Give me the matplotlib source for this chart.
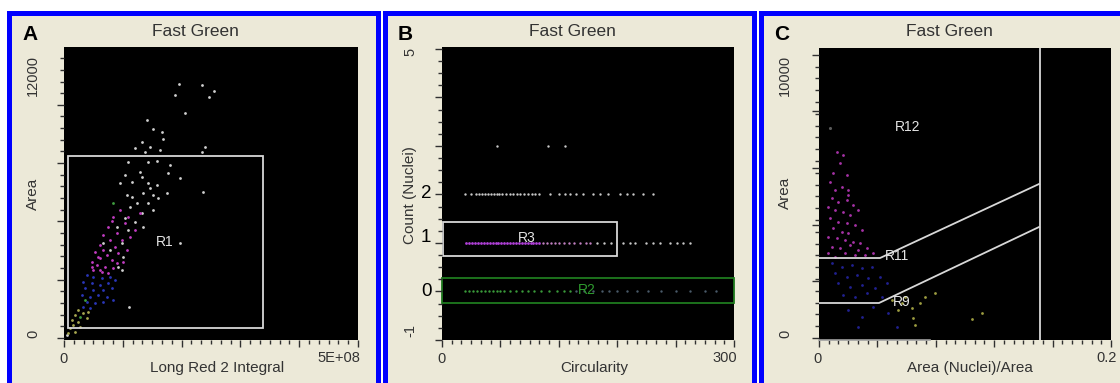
import matplotlib.pyplot as plt
import numpy as np
from matplotlib.patches import Rectangle

plt.rcParams['font.family'] = ['Liberation Sans', 'DejaVu Sans']

# ---- panel A: Long Red 2 Integral (x1e8) vs Area ----
a_white_x = [1.96, 2.34, 2.55, 2.47, 1.89, 2.06, 1.42, 1.52, 1.66, 1.69, 1.32, 1.21, 1.38, 1.46, 1.63,
             2.40, 2.34, 1.43, 1.58, 1.09, 1.80, 1.29, 1.04, 1.15, 1.32, 1.43, 1.46, 1.58, 1.97, 1.77,
             0.95, 1.07, 1.15, 1.35, 1.52, 1.75, 1.24, 1.43, 1.60, 1.12, 1.32, 1.52, 2.37, 1.97, 1.35,
             1.21, 1.04, 1.09, 0.98, 1.01, 0.92, 0.98, 0.78, 0.67, 0.90, 0.05, 1.10]
a_white_y = [10900, 10850, 10610, 10350, 10420, 9640, 9350, 8950, 8850, 8540, 8420, 8140, 7990, 8210, 8070,
             8210, 7990, 7560, 7610, 7560, 7420, 7140, 6990, 6710, 6920, 6640, 6420, 6560, 6850, 7060,
             6640, 6130, 6060, 6210, 6130, 6210, 5780, 5780, 5990, 5630, 5350, 5490, 6280, 4060, 4780,
             4990, 5130, 4630, 4060, 3490, 3060, 2920, 3780, 4060, 4780, 130, 1330]
a_mag_x = [0.95, 0.84, 1.04, 0.75, 0.90, 1.12, 0.67, 0.78, 0.98, 0.61, 0.87, 1.07, 0.53, 0.73, 0.92, 0.61,
           0.81, 1.01, 0.47, 0.56, 0.70, 0.84, 0.50, 0.64, 0.75, 0.58, 0.67, 0.47, 1.09, 1.21, 1.29, 0.81,
           0.90, 0.61]
a_mag_y = [5490, 5210, 4920, 4780, 4490, 4350, 4420, 4200, 4200, 3990, 3920, 3780, 3700, 3560, 3630, 3420,
           3350, 3270, 3270, 3130, 3060, 2990, 2920, 2850, 2770, 3490, 3780, 3060, 5210, 4630, 5350, 5000,
           3200, 2920]
a_blue_x = [0.39, 0.50, 0.64, 0.78, 0.33, 0.47, 0.61, 0.75, 0.87, 0.36, 0.50, 0.67, 0.81, 0.30, 0.44, 0.58,
            0.73, 0.39, 0.53, 0.67, 0.84, 0.33, 0.44]
a_blue_y = [2700, 2630, 2560, 2630, 2420, 2350, 2270, 2350, 2490, 2130, 2060, 2060, 2130, 1840, 1770, 1840,
            1770, 1560, 1490, 1560, 1630, 1340, 1270]
a_yel_x = [0.24, 0.19, 0.33, 0.13, 0.24, 0.39, 0.16, 0.27, 0.10, 0.19, 0.41, 0.07]
a_yel_y = [1200, 990, 1060, 770, 700, 840, 560, 490, 410, 270, 1130, 200]
a_green_x = [0.84, 0.36, 0.27]
a_green_y = [5810, 1630, 920]
a_r1 = (0.068, 429, 3.38, 7808)  # x0, y0, x1, y1

# ---- panel B: Circularity vs Count (Nuclei) ----
b_row3_x = [56, 109, 126]
b_row2_x = [24, 30, 35, 38, 41, 44, 47, 50, 53, 56, 59, 62, 66, 70, 73, 77, 80, 84, 88, 92, 96, 100,
            111, 120, 126, 131, 138, 145, 155, 162, 171, 183, 190, 196, 207, 217]
b_row1_mag_x = [25, 28, 31, 34, 37, 40, 43, 46, 49, 52, 55, 58, 61, 64, 67, 70, 73, 76, 79, 82, 85, 88,
                91, 94, 97, 100]
b_row1_pink_x = [104, 108, 112, 116, 120, 125, 130, 136, 142, 148, 152]
b_row1_white_x = [159, 166, 174, 186, 193, 198, 210, 217, 224, 234, 241, 248, 255]
b_row0_green_x = [24, 28, 32, 36, 40, 44, 48, 52, 56, 60, 64, 70, 76, 82, 88, 95, 102, 110, 118, 125, 131]
b_row0_dim_x = [138, 146, 155, 164, 172, 180, 190, 200, 212, 225, 240, 255, 270, 282]
b_r3 = (1, 0.73, 180, 1.43)
b_r2 = (0, -0.24, 300, 0.28)

# ---- panel C: Area (Nuclei)/Area vs Area ----
c_mag_x = [0.0121, 0.0144, 0.0098, 0.0189, 0.0075, 0.0155, 0.0201, 0.0087, 0.0132, 0.0189, 0.0235,
           0.0064, 0.0110, 0.0167, 0.0212, 0.0269, 0.0075, 0.0132, 0.0189, 0.0247, 0.0098, 0.0155,
           0.0201, 0.0292, 0.0064, 0.0121, 0.0178, 0.0235, 0.0281, 0.0087, 0.0144, 0.0212, 0.0269,
           0.0327, 0.0064, 0.0178, 0.0247, 0.0315, 0.0372, 0.0110, 0.0201, 0.0110, 0.0167]
c_mag_y = [6580, 6170, 5810, 5760, 5520, 5340, 5230, 4930, 4810, 4870, 4700, 4640, 4520, 4460, 4340,
           4520, 4230, 4110, 4050, 3990, 3870, 3750, 3700, 3810, 3580, 3520, 3460, 3400, 3340, 3230,
           3170, 3280, 3110, 3170, 2990, 2990, 2930, 2930, 2990, 2870, 5050, 5230, 6460]
c_blue_x = [0.0087, 0.0155, 0.0224, 0.0292, 0.0361, 0.0110, 0.0189, 0.0258, 0.0338, 0.0418, 0.0132,
            0.0212, 0.0292, 0.0384, 0.0463, 0.0167, 0.0247, 0.0327, 0.0429, 0.0201, 0.0292, 0.0372,
            0.0475, 0.0532, 0.0269]
c_blue_y = [2640, 2520, 2580, 2460, 2520, 2280, 2170, 2220, 2110, 2170, 1930, 1810, 1870, 1750, 1930,
            1520, 1460, 1580, 1460, 990, 750, 1110, 870, 400, 400]
c_yel_x = [0.0498, 0.0566, 0.0635, 0.0692, 0.0726, 0.0795, 0.0646, 0.0658, 0.0543, 0.1046, 0.1114, 0.0589]
c_yel_y = [1340, 1220, 1050, 1220, 1460, 1580, 690, 460, 990, 660, 890, 1460]
c_grey_x = [0.0075]
c_grey_y = [7403]
c_r11_x = [0, 0.0418, 0.1507]
c_r11_y = [2824, 2824, 5436]
c_r9_x = [0, 0.0411, 0.1507]
c_r9_y = [1236, 1236, 3918]
c_gate_x = 0.1514

W, H = 1120, 383


def fx(px):
    return px / W


def fy(py):
    return 1 - py / H


fig = plt.figure(figsize=(W / 100, H / 100), dpi=100, facecolor='white')


def ftext(px, py, s, **kw):
    kw.setdefault('color', '#333333')
    fig.text(fx(px), fy(py), s, **kw)


# window frames (blue border, beige inside)
for x0, x1 in [(7, 381), (383, 757), (759, 1133)]:
    fig.add_artist(Rectangle((fx(x0), fy(400)), (x1 - x0) / W, 389 / H, transform=fig.transFigure,
                             facecolor='#0000FF', edgecolor='none', zorder=-2))
    fig.add_artist(Rectangle((fx(x0 + 5), fy(400)), (x1 - x0 - 10) / W, 384 / H, transform=fig.transFigure,
                             facecolor='#ECE9D8', edgecolor='none', zorder=-1))


def make_axes(left, right, top, bottom):
    ax = fig.add_axes([fx(left), fy(bottom), (right - left) / W, (bottom - top) / H])
    ax.set_facecolor('black')
    for sp in ax.spines.values():
        sp.set_visible(False)
    ax.tick_params(which='both', direction='out', color='#303030', width=1,
                   labelleft=False, labelbottom=False)
    ax.tick_params(which='major', length=5)
    ax.tick_params(which='minor', length=3.2)
    return ax


region_kw = dict(color='#D8D8D8', lw=1.3)
lab_kw = dict(color='#E4E4E4', fontsize=10, ha='center', va='center')

# ---------------- A ----------------
ax = make_axes(64, 358, 47, 340)
ax.set_xlim(0, 5e8)
ax.set_ylim(-86, 12480)
ax.set_xticks(np.linspace(0, 5e8, 6))
ax.set_xticks(np.linspace(0, 5e8, 31), minor=True)
ax.set_yticks(np.arange(0, 12001, 2500))
ax.set_yticks(np.arange(0, 12001, 500), minor=True)
ax.scatter(np.array(a_white_x) * 1e8, a_white_y, s=4, c='#CFCFCF', linewidths=0)
ax.scatter(np.array(a_mag_x) * 1e8, a_mag_y, s=4, c='#C23CC2', linewidths=0)
ax.scatter(np.array(a_blue_x) * 1e8, a_blue_y, s=4, c='#2A36B8', linewidths=0)
ax.scatter(np.array(a_yel_x) * 1e8, a_yel_y, s=4, c='#A8A850', linewidths=0)
ax.scatter(np.array(a_green_x) * 1e8, a_green_y, s=4, c='#40A040', linewidths=0)
x0, y0, x1, y1 = a_r1
ax.add_patch(Rectangle((x0 * 1e8, y0), (x1 - x0) * 1e8, y1 - y0, fill=False, ec='#D8D8D8', lw=1.3))
ax.text(1.72e8, 4118, 'R1', **lab_kw)

ftext(30, 35, 'A', fontsize=15, fontweight='bold', color='black', ha='center', va='center')
ftext(195, 31, 'Fast Green', fontsize=12.5, ha='center', va='center')
ftext(217, 368, 'Long Red 2 Integral', fontsize=11, ha='center', va='center')
ftext(33, 194, 'Area', fontsize=11, rotation=90, ha='center', va='center')
ftext(63, 359, '0', fontsize=10.5, ha='center', va='center')
ftext(360, 358, '5E+08', fontsize=10.5, ha='right', va='center')
ftext(33, 338, '0', fontsize=10.5, rotation=90, ha='center', va='bottom')
ftext(33, 55, '12000', fontsize=10.5, rotation=90, ha='center', va='top')

# ---------------- B ----------------
ax = make_axes(442, 734, 47, 340)
ax.set_xlim(0, 300)
ax.set_ylim(-1.0, 5.04)
ax.set_xticks(np.linspace(0, 300, 6))
ax.set_xticks(np.linspace(0, 300, 31), minor=True)
ax.set_yticks(np.arange(-1, 6, 1))
ax.set_yticks(np.arange(-1, 5.01, 0.25), minor=True)
ax.scatter(b_row3_x, np.full(len(b_row3_x), 3), s=3, c='#C8C8C8', linewidths=0)
ax.scatter(b_row2_x, np.full(len(b_row2_x), 2), s=3, c='#C8C8C8', linewidths=0)
ax.scatter(b_row1_mag_x, np.full(len(b_row1_mag_x), 1), s=4, c='#B040D8', linewidths=0)
ax.scatter(b_row1_pink_x, np.full(len(b_row1_pink_x), 1), s=3, c='#C080C0', linewidths=0)
ax.scatter(b_row1_white_x, np.full(len(b_row1_white_x), 1), s=3, c='#C8C8C8', linewidths=0)
ax.scatter(b_row0_green_x, np.full(len(b_row0_green_x), 0), s=3, c='#3A9A3A', linewidths=0)
ax.scatter(b_row0_dim_x, np.full(len(b_row0_dim_x), 0), s=3, c='#4A5A6A', linewidths=0)
x0, y0, x1, y1 = b_r3
ax.add_patch(Rectangle((x0, y0), x1 - x0, y1 - y0, fill=False, ec='#D8D8D8', lw=1.3))
x0, y0, x1, y1 = b_r2
ax.add_patch(Rectangle((x0, y0), x1 - x0, y1 - y0, fill=False, ec='#1E7A1E', lw=1.3, clip_on=False))
ax.text(87, 1.10, 'R3', **lab_kw)
ax.text(149, 0.03, 'R2', fontsize=10, color='#2E9A2E', ha='center', va='center')

ftext(405, 35, 'B', fontsize=15, fontweight='bold', color='black', ha='center', va='center')
ftext(572, 31, 'Fast Green', fontsize=12.5, ha='center', va='center')
ftext(594, 368, 'Circularity', fontsize=11, ha='center', va='center')
ftext(410, 195, 'Count (Nuclei)', fontsize=11, rotation=90, ha='center', va='center')
ftext(442, 359, '0', fontsize=10.5, ha='center', va='center')
ftext(737, 358, '300', fontsize=10.5, ha='right', va='center')
ftext(410, 48, '5', fontsize=10.5, rotation=90, ha='center', va='top')
ftext(410, 337, '-1', fontsize=10.5, rotation=90, ha='center', va='bottom')
for val, py in [('2', 193), ('1', 238), ('0', 292)]:
    ftext(426, py, val, fontsize=13.5, color='black', ha='center', va='center')

# ---------------- C ----------------
ax = make_axes(819, 1111, 48, 340)
ax.set_xlim(0, 0.2)
ax.set_ylim(-70, 10237)
ax.set_xticks(np.linspace(0, 0.2, 6))
ax.set_xticks(np.linspace(0, 0.2, 31), minor=True)
ax.set_yticks(np.linspace(0, 10000, 6))
ax.set_yticks(np.linspace(0, 10000, 25), minor=True)
ax.scatter(c_mag_x, c_mag_y, s=4, c='#A632A6', linewidths=0)
ax.scatter(c_blue_x, c_blue_y, s=4, c='#202090', linewidths=0)
ax.scatter(c_yel_x, c_yel_y, s=4, c='#9C9C40', linewidths=0)
ax.scatter(c_grey_x, c_grey_y, s=5, c='#5A5A5A', linewidths=0)
ax.plot(c_r11_x, c_r11_y, **region_kw)
ax.plot(c_r9_x, c_r9_y, **region_kw)
ax.axvline(c_gate_x, **region_kw)
ax.plot([0, 0.076], [-70, -70], color='#A0A0A0', lw=1.2, clip_on=False)
ax.text(0.061, 7448, 'R12', **lab_kw)
ax.text(0.0534, 2895, 'R11', **lab_kw)
ax.text(0.0569, 1271, 'R9', **lab_kw)

ftext(782, 34, 'C', fontsize=15, fontweight='bold', color='black', ha='center', va='center')
ftext(949, 31, 'Fast Green', fontsize=12.5, ha='center', va='center')
ftext(970, 368, 'Area (Nuclei)/Area', fontsize=11, ha='center', va='center')
ftext(785, 193, 'Area', fontsize=11, rotation=90, ha='center', va='center')
ftext(817, 359, '0', fontsize=10.5, ha='center', va='center')
ftext(1117, 358, '0.2', fontsize=10.5, ha='right', va='center')
ftext(785, 338, '0', fontsize=10.5, rotation=90, ha='center', va='bottom')
ftext(785, 55, '10000', fontsize=10.5, rotation=90, ha='center', va='top')

fig.savefig('out.png', dpi=100, facecolor='white')
